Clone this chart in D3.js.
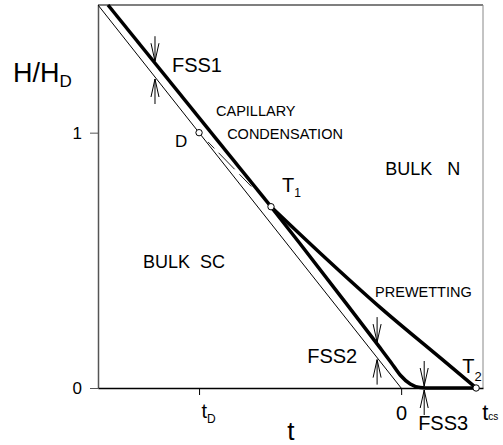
<!DOCTYPE html>
<meta charset="utf-8">
<style>
body { margin: 0; background: #fff; }
text { font-family: "Liberation Sans", Arial, sans-serif; fill: #000; }
</style>
<body>
<svg width="503" height="445"></svg>
</body>
<script src="https://d3js.org/d3.v7.min.js"></script>
<script>
// bulk transition line H = -t (thin)
const bulkLine = [[-1.5, 1.5], [0, 0]];
// capillary condensation line (thick), top edge down to T1
const capLine = [[-1.4505, 1.5], [-0.644, 0.710]];
// prewetting branch T1 -> T2
const prewetLine = [[-0.644, 0.710], [-0.4, 0.528], [-0.1, 0.313], [0.2, 0.114], [0.371, 0]];
// lower branch T1 -> T2 (follows bulk line, then bends onto H = 0)
const lowerLine = [[-0.644, 0.710], [-0.5, 0.565], [-0.3, 0.36], [-0.104, 0.157], [-0.05, 0.1],
                   [-0.005, 0.051], [0.045, 0.016], [0.094, 0.002], [0.15, 0], [0.371, 0]];
// dashed piece between D and T1
const dashLine = [[-1, 1], [-0.644, 0.710]];
// special points
const points = [{name: "D", t: -1, h: 1}, {name: "T1", t: -0.644, h: 0.710}, {name: "T2", t: 0.371, h: 0}];
// finite size shift markers: t position, curve above, curve below
const fss = [
    {t: -1.218, top: 1.272, bot: 1.218},
    {t: -0.119, top: 0.172, bot: 0.119},
    {t: 0.114, top: 0.0, bot: 0.0}
];
const yTicks = [0, 1];
const xTicks = [-1, 0];

const svg = d3.select("svg");
const x = d3.scaleLinear().domain([-1.5, 0.405]).range([98, 483]);
const y = d3.scaleLinear().domain([0, 1.5]).range([388, 5]);

// frame
svg.append("line").attr("x1", x(-1.5)).attr("x2", x(0.405)).attr("y1", y(1.5)).attr("y2", y(1.5))
    .attr("stroke", "#555").attr("stroke-width", 1.5);
svg.append("line").attr("x1", x(0.405)).attr("x2", x(0.405)).attr("y1", y(1.5)).attr("y2", y(0))
    .attr("stroke", "#888").attr("stroke-width", 1);

// axes
const yAxis = svg.append("g").attr("transform", `translate(${x(-1.5)},0)`)
    .call(d3.axisLeft(y).tickValues(yTicks).tickSize(8).tickSizeOuter(0).tickPadding(8).tickFormat(d3.format("d")));
yAxis.select(".domain").attr("stroke", "#555").attr("stroke-width", 1.5);
yAxis.selectAll(".tick line").attr("stroke", "#555");
yAxis.selectAll("text").attr("font-size", 17).attr("font-family", "Liberation Sans, Arial, sans-serif");

const xAxis = svg.append("g").attr("transform", `translate(0,${y(0)})`)
    .call(d3.axisBottom(x).tickValues(xTicks).tickSize(7).tickSizeOuter(0).tickPadding(11).tickFormat(d => d === 0 ? "0" : ""));
xAxis.select(".domain").attr("stroke", "#000").attr("stroke-width", 1.5);
xAxis.selectAll("text").attr("font-size", 20).attr("font-family", "Liberation Sans, Arial, sans-serif");
xAxis.selectAll(".tick").filter(d => d === -1).select("text")
    .attr("text-anchor", "start").attr("dx", 2).attr("dy", "0.6em")
    .call(t => { t.append("tspan").text("t"); t.append("tspan").attr("font-size", 12).attr("dy", 5).text("D"); });

const line = d3.line().x(d => x(d[0])).y(d => y(d[1]));
const smooth = d3.line().x(d => x(d[0])).y(d => y(d[1])).curve(d3.curveMonotoneX);

svg.append("path").attr("d", line(bulkLine)).attr("fill", "none").attr("stroke", "#000").attr("stroke-width", 1);
svg.append("path").attr("d", line(dashLine)).attr("fill", "none").attr("stroke", "#222").attr("stroke-width", 1)
    .attr("stroke-dasharray", "0,13,9,6,23,7,17,200");
svg.append("path").attr("d", line(capLine)).attr("fill", "none").attr("stroke", "#000").attr("stroke-width", 3.5);
svg.append("path").attr("d", smooth(prewetLine)).attr("fill", "none").attr("stroke", "#000").attr("stroke-width", 3.5)
    .attr("stroke-linejoin", "round");
svg.append("path").attr("d", smooth(lowerLine)).attr("fill", "none").attr("stroke", "#000").attr("stroke-width", 3.5)
    .attr("stroke-linejoin", "round");

// FSS arrows
const len = 25, head = 18, hw = 4;
fss.forEach(f => {
    const px = x(f.t), yt = y(f.top) - 2, yb = y(f.bot) + 2;
    const g = svg.append("g").attr("stroke", "#000").attr("stroke-width", 1).attr("fill", "none");
    g.append("path").attr("d", `M${px},${yt - len}V${yt}M${px - hw},${yt - head}L${px},${yt}L${px + hw},${yt - head}`);
    g.append("path").attr("d", `M${px},${yb + len}V${yb}M${px - hw},${yb + head}L${px},${yb}L${px + hw},${yb + head}`);
});

// points
svg.selectAll("circle.pt").data(points).enter().append("circle")
    .attr("cx", d => x(d.t)).attr("cy", d => y(d.h)).attr("r", 3.2)
    .attr("fill", "#fff").attr("stroke", "#000").attr("stroke-width", 1);

// labels
function label(t, h, txt, size, sub, subSize, subDy) {
    const el = svg.append("text").attr("x", x(t)).attr("y", y(h)).attr("font-size", size)
        .style("white-space", "pre");
    el.append("tspan").text(txt);
    if (sub) el.append("tspan").attr("font-size", subSize).attr("dy", subDy).text(sub);
    return el;
}
label(-1.921, 1.2, "H/H", 27, "D", 17, 5);
label(-0.564, -0.204, "t", 26);
label(0.401, -0.125, "t", 22, "cs", 10, 0);
label(-1.134, 1.239, "FSS1", 20);
label(-0.465, 0.098, "FSS2", 20);
label(0.084, -0.165, "FSS3", 20);
label(-1.119, 0.945, "D", 17);
label(-0.589, 0.769, "T", 20, "1", 12, 5);
label(0.302, 0.059, "T", 20, "2", 13, 8);
label(-0.916, 1.067, "CAPILLARY", 14.5);
label(-0.861, 0.976, "CONDENSATION", 14.5);
label(-0.079, 0.835, "BULK   N", 18);
label(-1.277, 0.471, "BULK  SC", 18);
label(-0.129, 0.357, "PREWETTING", 14.5);
</script>
